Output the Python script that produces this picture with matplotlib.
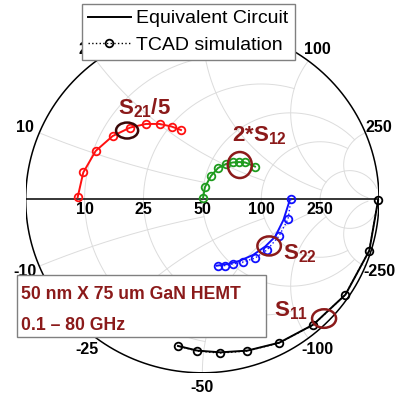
import numpy as np
import matplotlib
matplotlib.use("Agg")
import matplotlib.pyplot as plt
from matplotlib.patches import Ellipse, Rectangle
from matplotlib.lines import Line2D

plt.rcParams['font.family'] = ['Liberation Sans', 'DejaVu Sans']
plt.rcParams['mathtext.fontset'] = 'custom'
plt.rcParams['mathtext.rm'] = 'Liberation Sans:bold'
plt.rcParams['mathtext.it'] = 'Liberation Sans:bold'
plt.rcParams['mathtext.bf'] = 'Liberation Sans:bold'

# grid values (ohm, Z0 = 50) and where each grid line stops (normalised)
grid_ohm = [10, 25, 50, 100, 250]
grid_end = [1, 2, 5, 5, 30]
z0 = 50.0

s11_tcad_re = [0.995, 0.944, 0.808, 0.627, 0.434, 0.253, 0.100, -0.030, -0.138]
s11_tcad_im = [-0.003, -0.297, -0.551, -0.724, -0.828, -0.874, -0.886, -0.874, -0.845]
s11_ec_re = [0.995, 0.945, 0.810, 0.628, 0.436, 0.255, 0.102, -0.028, -0.138]
s11_ec_im = [-0.003, -0.295, -0.549, -0.722, -0.826, -0.872, -0.882, -0.872, -0.845]

s22_tcad_re = [0.502, 0.485, 0.434, 0.366, 0.298, 0.230, 0.174, 0.129, 0.089]
s22_tcad_im = [0.003, -0.113, -0.211, -0.291, -0.338, -0.361, -0.372, -0.381, -0.384]
s22_ec_re = [0.497, 0.459, 0.412, 0.355, 0.287, 0.213, 0.146, 0.082]
s22_ec_im = [0.003, -0.118, -0.215, -0.272, -0.320, -0.353, -0.372, -0.382]

s21_re = [-0.706, -0.674, -0.604, -0.508, -0.409, -0.319, -0.242, -0.174, -0.121]
s21_im = [0.012, 0.156, 0.280, 0.366, 0.415, 0.436, 0.436, 0.421, 0.401]

s12_re = [0.004, 0.015, 0.049, 0.089, 0.134, 0.174, 0.208, 0.242, 0.298]
s12_im = [0.009, 0.072, 0.136, 0.182, 0.205, 0.214, 0.216, 0.214, 0.190]

dark_red = '#8b1a1a'
grid_col = '#dcdcdc'


def gamma(z):
    return (z - 1) / (z + 1)


fig = plt.figure(figsize=(4.02, 4.0), dpi=100)
ax = fig.add_axes([0.0639, 0.068, 0.8789, 0.8665])
ax.set_xlim(-1, 1)
ax.set_ylim(-1, 1)
ax.axis('off')

# smith chart grid
for v, e in zip(grid_ohm, grid_end):
    r = v / z0
    t = np.linspace(-np.arctan(e), np.arctan(e), 300)
    g = gamma(r + 1j * np.tan(t))
    ax.plot(g.real, g.imag, color=grid_col, lw=0.7, zorder=1)
    t = np.linspace(0, np.arctan(e), 300)
    for s in (1, -1):
        g = gamma(np.tan(t) + 1j * s * r)
        ax.plot(g.real, g.imag, color=grid_col, lw=0.7, zorder=1)

th = np.linspace(0, 2 * np.pi, 400)
ax.plot(np.cos(th), np.sin(th), color='k', lw=1.1, zorder=2)
ax.plot([-1, 1], [0, 0], color='k', lw=1.1, zorder=2)

# labels
for v in grid_ohm:
    r = v / z0
    ax.text(gamma(r), -0.012, str(v), ha='center', va='top', fontsize=11.5,
            fontweight='bold', zorder=3)
    for s in (1, -1):
        ang = np.angle(gamma(1j * s * r))
        lab = str(v) if s > 0 else '-' + str(v)
        ax.text(1.085 * np.cos(ang), 1.085 * np.sin(ang), lab, ha='center',
                va='center', fontsize=11.5, fontweight='bold', clip_on=False, zorder=3)

mk = dict(marker='o', ms=5.5, mfc='none', mew=1.3, clip_on=False)

ax.plot(s21_re, s21_im, color='#ff1010', lw=1.4, zorder=4, **mk)
ax.plot(s12_re, s12_im, color='#1e9b1e', lw=1.4, zorder=4, **mk)
ax.plot(s22_ec_re, s22_ec_im, color='#1010ff', lw=1.4, zorder=4)
ax.plot(s22_tcad_re, s22_tcad_im, color='#1010ff', lw=1.0, ls=':', zorder=4, **mk)
ax.plot(s11_ec_re, s11_ec_im, color='k', lw=1.4, zorder=4, clip_on=False)
ax.plot(s11_tcad_re, s11_tcad_im, color='k', lw=1.0, ls=':', zorder=4, **mk)

# highlight ellipses
for (cx, cy, w, h, c) in [(-0.426, 0.398, 0.125, 0.092, '#3a0808'),
                          (0.212, 0.199, 0.136, 0.150, dark_red),
                          (0.378, -0.268, 0.133, 0.110, dark_red),
                          (0.689, -0.687, 0.136, 0.107, dark_red)]:
    ax.add_patch(Ellipse((cx, cy), w, h, fill=False, ec=c, lw=1.8, zorder=5))

lab_kw = dict(color=dark_red, fontsize=16, ha='left', va='baseline', zorder=6)
ax.text(-0.477, 0.493, r'$\mathrm{S_{21}/5}$', **lab_kw)
ax.text(0.167, 0.338, r'$\mathrm{2{*}S_{12}}$', **lab_kw)
ax.text(0.459, -0.343, r'$\mathrm{S_{22}}$', **lab_kw)
ax.text(0.406, -0.672, r'$\mathrm{S_{11}}$', **lab_kw)

# legend
h1 = Line2D([], [], color='k', lw=1.4)
h2 = Line2D([], [], color='k', lw=1.0, ls=':', marker='o', ms=5.5, mfc='none', mew=1.3)
leg = fig.legend([h1, h2], ['Equivalent Circuit', 'TCAD simulation'],
                 loc='upper left', bbox_to_anchor=(0.204, 0.99), fontsize=14,
                 fancybox=False, framealpha=1, edgecolor='#808080',
                 borderpad=0.3, labelspacing=0.45, handlelength=2.2,
                 handletextpad=0.3, borderaxespad=0)
leg.get_frame().set_linewidth(1.0)

# info box
fig.patches.append(Rectangle((0.0423, 0.1575), 0.6194, 0.155, transform=fig.transFigure,
                             fc='white', ec='#808080', lw=1.0, zorder=10))
fig.text(0.0515, 0.2525, '50 nm X 75 um GaN HEMT', color=dark_red, fontsize=12.7,
         fontweight='bold', va='baseline', zorder=11)
fig.text(0.0515, 0.175, '0.1 \u2013 80 GHz', color=dark_red, fontsize=12.7,
         fontweight='bold', va='baseline', zorder=11)

fig.savefig('out.png', dpi=100)
